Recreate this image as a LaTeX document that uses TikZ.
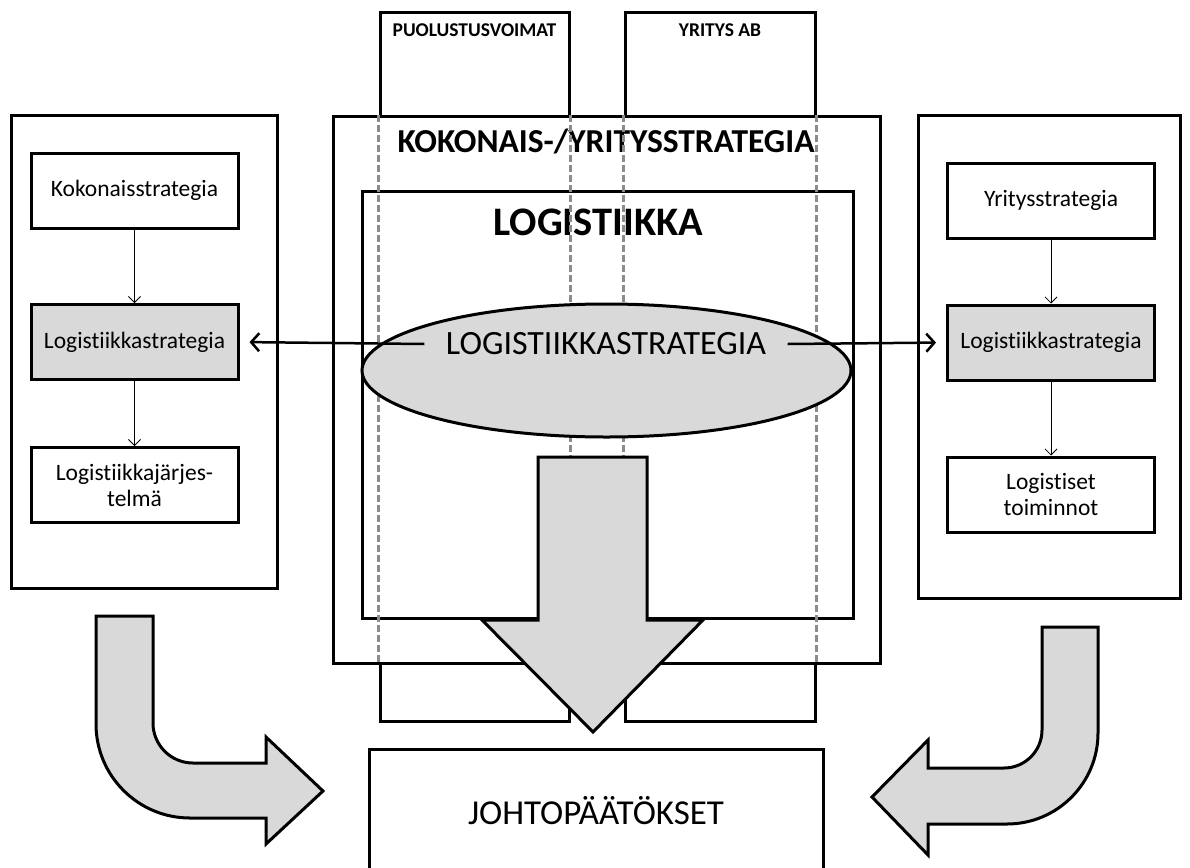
\documentclass[tikz,border=0pt]{standalone}
\usepackage{fontspec}
\setmainfont{Carlito}[Ligatures=NoCommon]
\usetikzlibrary{arrows.meta,shapes.geometric}
\definecolor{shade}{RGB}{217,217,217}
\definecolor{seam}{RGB}{140,140,140}

\begin{document}
\begin{tikzpicture}[x=1pt,y=-1pt,line width=3pt,line join=miter,
  frame/.style={draw,fill=white,inner sep=0pt},
  card/.style={frame,minimum width=207pt,minimum height=75pt,align=center,
    font=\fontsize{23.5}{26}\selectfont},
  keycard/.style={card,fill=shade},
  seamline/.style={draw=seam,dash pattern=on 7pt off 3pt},
  feed/.style={line width=.8pt,-{Straight Barb[length=6pt,width=12pt]}},
  reach/.style={line width=2.5pt,shorten >=10pt,-{Straight Barb[length=8pt,width=18pt]}},
  bigarrow/.style={draw,fill=shade}]
  \useasboundingbox (0,0) rectangle (1190,867);
  \clip (0,0) rectangle (1190,867);
  % two organisation columns behind the strategy frame
  \node[frame,minimum width=189pt,minimum height=708pt] (puol) at (474.5,367) {};
  \node[frame,minimum width=190pt,minimum height=708pt] (yrit) at (720,367) {};
  \node[font=\bfseries\fontsize{19.5}{22}\selectfont] (puoltxt) at (474.5,30) {PUOLUSTUSVOIMAT};
  \node[font=\bfseries\fontsize{19.5}{22}\selectfont] (yrittxt) at (720,30) {YRITYS AB};
  % strategy frame with the logistics frame inside
  \node[frame,minimum width=547pt,minimum height=547pt] (kok) at (606.5,389.5) {};
  \node[font=\bfseries\fontsize{33.5}{37}\selectfont] (koktxt) at (606,142) {KOKONAIS-/YRITYSSTRATEGIA};
  \node[frame,minimum width=491pt,minimum height=427pt] (logi) at (607.5,404.5) {};
  \node[font=\bfseries\fontsize{40.5}{44}\selectfont] (logitxt) at (598,222) {LOGISTIIKKA};
  % hidden edges of the two columns
  \foreach \c/\s in {puol/west,puol/east,yrit/west,yrit/east}{
    \draw[seamline] (\c.north \s |- kok.north) -- (\c.south \s |- kok.south);
  }
  % logistics strategy ellipse and the big arrow down
  \node[ellipse,draw,fill=shade,minimum width=489pt,minimum height=133pt,inner sep=0pt] (ell) at (606.5,370.5) {};
  \node[font=\fontsize{34}{37}\selectfont,inner xsep=20pt,inner ysep=0pt] (strat) at (606,344) {LOGISTIIKKASTRATEGIA};
  \draw[bigarrow] (538,457)--(647,457)--(647,620)--(703,620)--(593,732)--(482,620)--(538,620)--cycle;
  % left column: Puolustusvoimat
  \node[frame,minimum width=266pt,minimum height=473pt] (lcol) at (144,351.5) {};
  \node[card] (lkok) at (134.5,190.5) {Kokonaisstrategia};
  \node[keycard] (lstr) at (134.5,342) {Logistiikkastrategia};
  \node[card] (ljar) at (134.5,485) {Logistiikkajärjes-\\telmä};
  \draw[feed] (lkok) -- (lstr);
  \draw[feed] (lstr) -- (ljar);
  % right column: Yritys AB
  \node[frame,minimum width=262pt,minimum height=483pt] (rcol) at (1049,356.5) {};
  \node[card] (ryri) at (1051,200.5) {Yritysstrategia};
  \node[keycard] (rstr) at (1051,342.5) {Logistiikkastrategia};
  \node[card] (rtoi) at (1051,494.5) {Logistiset\\toiminnot};
  \draw[feed] (ryri) -- (rstr);
  \draw[feed] (rstr) -- (rtoi);
  \draw[reach] (strat.west) -- (lstr.east);
  \draw[reach] (strat.east) -- (rstr.west);
  % bent arrows into the conclusions
  \draw[bigarrow] (96,616)--(153,616)--(153,723) arc[start angle=180,end angle=90,radius=40]
    --(266,763)--(266,737)--(323,791)--(266,844)--(266,818)--(190,818)
    arc[start angle=90,end angle=180,radius=94]--cycle;
  \draw[bigarrow] (1042,627)--(1098,627)--(1098,733) arc[start angle=0,end angle=90,radius=91]
    --(928,824)--(928,855)--(872,797)--(928,740)--(928,768)--(1004,768)
    arc[start angle=90,end angle=0,radius=38]--cycle;
  \node[frame,minimum width=454pt,minimum height=124pt,font=\fontsize{35}{38}\selectfont] (joh) at (596,811) {JOHTOPÄÄTÖKSET};
\end{tikzpicture}
\end{document}
